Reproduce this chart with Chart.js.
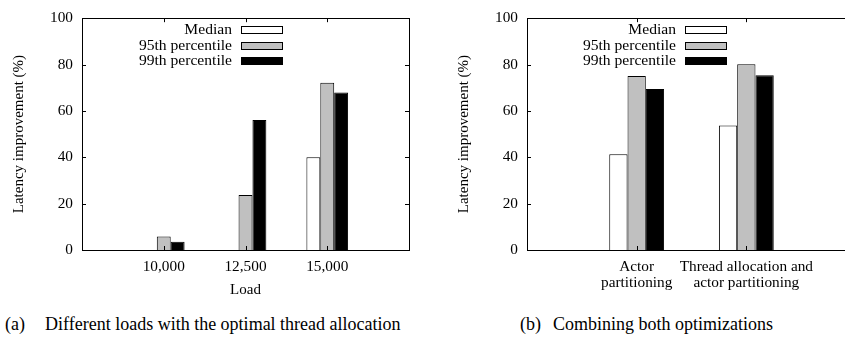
<!DOCTYPE html>
<html>
<head>
<meta charset="utf-8">
<script src="https://cdn.jsdelivr.net/npm/chart.js@4.4.1/dist/chart.umd.min.js"></script>
<style>
  html, body { margin: 0; padding: 0; background: #fff; }
  body { width: 845px; height: 337px; overflow: hidden; position: relative; font-family: 'Liberation Serif', serif; color: #000; }
  #wrapA { position: absolute; left: 0; top: 0; width: 420px; height: 300px; }
  #wrapB { position: absolute; left: 420px; top: 0; width: 425px; height: 300px; overflow: hidden; }
  .cap { position: absolute; top: 313px; font-size: 18px; line-height: 22px; white-space: nowrap; }
</style>
</head>
<body>
<div id="wrapA"><canvas id="chartA" width="420" height="300"></canvas></div>
<div id="wrapB"><canvas id="chartB" width="445" height="300"></canvas></div>
<div class="cap" style="left:5px">(a)</div>
<div class="cap" style="left:45px">Different loads with the optimal thread allocation</div>
<div class="cap" style="left:520px">(b)</div>
<div class="cap" style="left:553px">Combining both optimizations</div>
<script>
const seriesNames = ['Median', '95th percentile', '99th percentile'];
const seriesColors = ['#ffffff', '#c0c0c0', '#000000'];

// (a) different loads
const loadLabels = ['', '10,000', '12,500', '15,000', ''];
const loadMedian = [null, 0, 0, 40, null];
const load95th = [null, 5.8, 23.7, 72.2, null];
const load99th = [null, 3.6, 56.1, 67.9, null];

// (b) combining optimizations
const optLabels = ['', ['Actor', 'partitioning'], ['Thread allocation and', 'actor partitioning'], ''];
const optMedian = [null, 41.3, 53.7, null];
const opt95th = [null, 75.1, 80.1, null];
const opt99th = [null, 69.4, 75.4, null];

const yTicks = [0, 20, 40, 60, 80, 100];

const serif = "'Liberation Serif', serif";

// box around the plot + inward tics like gnuplot
const frame = {
    id: 'frame',
    afterDraw(chart) {
        const { ctx, chartArea: a, scales: { x, y } } = chart;
        ctx.save();
        ctx.strokeStyle = '#000';
        ctx.lineWidth = 1;
        ctx.beginPath();
        yTicks.forEach(v => {
            const py = Math.round(y.getPixelForValue(v)) + 0.5;
            ctx.moveTo(a.left, py); ctx.lineTo(a.left + 4, py);
            ctx.moveTo(a.right, py); ctx.lineTo(a.right - 4, py);
        });
        chart.data.labels.forEach((lab, i) => {
            if (!lab || lab.length === 0) return;
            const px = Math.round(x.getPixelForTick(i)) + 0.5;
            ctx.moveTo(px, a.top); ctx.lineTo(px, a.top + 4);
            ctx.moveTo(px, a.bottom); ctx.lineTo(px, a.bottom - 4);
        });
        ctx.stroke();
        ctx.strokeRect(Math.round(a.left) + 0.5, Math.round(a.top) + 0.5,
            Math.round(a.right - a.left), Math.round(a.bottom - a.top));
        ctx.restore();
    }
};

// key: text right aligned, swatch to the right of it
const boxLegend = {
    id: 'boxLegend',
    afterDraw(chart, args, opts) {
        const { ctx, chartArea: a } = chart;
        const boxRight = a.right - opts.fromRight;
        const boxLeft = boxRight - 42;
        ctx.save();
        ctx.font = '15.6px ' + serif;
        ctx.textAlign = 'right';
        ctx.textBaseline = 'middle';
        chart.data.datasets.forEach((ds, i) => {
            const cy = a.top + 12 + i * 15.5;
            ctx.fillStyle = '#000';
            ctx.fillText(ds.label, boxLeft - 9, cy);
            ctx.fillStyle = ds.backgroundColor;
            ctx.fillRect(boxLeft, Math.round(cy - 4), 42, 8);
            ctx.strokeStyle = '#000';
            ctx.lineWidth = 1;
            ctx.strokeRect(boxLeft + 0.5, Math.round(cy - 4) + 0.5, 41, 7);
        });
        ctx.restore();
    }
};

function makeChart(id, labels, values, o) {
    const ctx = document.getElementById(id).getContext('2d');
    return new Chart(ctx, {
        type: 'bar',
        data: {
            labels: labels,
            datasets: values.map((v, i) => ({
                label: seriesNames[i],
                data: v,
                backgroundColor: seriesColors[i],
                borderColor: '#000',
                borderWidth: 1,
                borderSkipped: 'bottom',
                categoryPercentage: o.catPct,
                barPercentage: 1
            }))
        },
        options: {
            responsive: false,
            animation: false,
            events: [],
            layout: { padding: { left: 0, top: 17, right: o.padRight, bottom: 0 } },
            plugins: {
                legend: { display: false },
                tooltip: { enabled: false },
                boxLegend: { fromRight: o.legendFromRight }
            },
            scales: {
                x: {
                    type: 'category',
                    offset: false,
                    grid: { display: false, drawTicks: false },
                    border: { display: false },
                    ticks: {
                        autoSkip: false, maxRotation: 0, minRotation: 0,
                        padding: 9, color: '#000',
                        font: { family: serif, size: 15.3, lineHeight: 1.05 }
                    },
                    title: {
                        display: o.xTitle !== '',
                        text: o.xTitle, color: '#000',
                        font: { family: serif, size: 15, lineHeight: 1.2 },
                        padding: { top: 0, bottom: 1 }
                    },
                    afterFit: s => { s.height = 50; }
                },
                y: {
                    min: 0, max: 100,
                    grid: { display: false, drawTicks: false },
                    border: { display: false },
                    ticks: {
                        stepSize: 20, padding: 9, color: '#000',
                        font: { family: serif, size: 15.3 }
                    },
                    title: {
                        display: true,
                        text: 'Latency improvement (%)', color: '#000',
                        font: { family: serif, size: 15, lineHeight: 1.2 },
                        padding: { top: o.yTitlePad, bottom: 0 }
                    },
                    afterFit: s => { s.width = o.yWidth; }
                }
            }
        },
        plugins: [frame, boxLegend]
    });
}

function drawAll() {
    makeChart('chartA', loadLabels, [loadMedian, load95th, load99th], {
        catPct: 0.51, padRight: 11, yWidth: 82, yTitlePad: 10, xTitle: 'Load', legendFromRight: 126
    });
    makeChart('chartB', optLabels, [optMedian, opt95th, opt99th], {
        catPct: 0.5, padRight: 8, yWidth: 107, yTitlePad: 35, xTitle: '', legendFromRight: 129
    });
}

// make sure the serif face is ready before the canvases draw text
document.fonts.load("15px 'Liberation Serif'").then(drawAll, drawAll);
</script>
</body>
</html>
